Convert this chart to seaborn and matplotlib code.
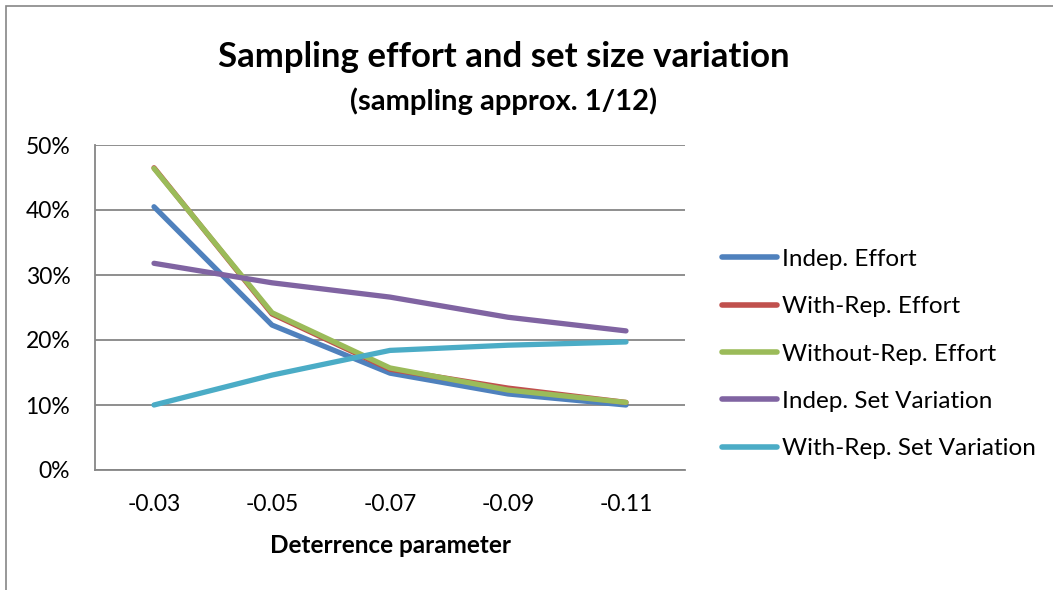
import matplotlib
matplotlib.use("Agg")
import matplotlib.pyplot as plt
import seaborn as sns
import pandas as pd
from matplotlib.patches import Rectangle

categories = ["-0.03", "-0.05", "-0.07", "-0.09", "-0.11"]
indep_effort = [0.405, 0.223, 0.149, 0.117, 0.100]
with_rep_effort = [0.465, 0.240, 0.155, 0.126, 0.104]
without_rep_effort = [0.464, 0.242, 0.157, 0.123, 0.104]
indep_set_var = [0.318, 0.288, 0.266, 0.235, 0.214]
with_rep_set_var = [0.100, 0.146, 0.184, 0.192, 0.197]
series_names = ["Indep. Effort", "With-Rep. Effort", "Without-Rep. Effort",
                "Indep. Set Variation", "With-Rep. Set Variation"]
colors = ["#4F81BD", "#C0504D", "#9BBB59", "#8064A2", "#4BACC6"]
yticks = [0.0, 0.1, 0.2, 0.3, 0.4, 0.5]
ytick_labels = ["0%", "10%", "20%", "30%", "40%", "50%"]

series_values = [indep_effort, with_rep_effort, without_rep_effort,
                 indep_set_var, with_rep_set_var]
rows = []
for name, vals in zip(series_names, series_values):
    for i, v in enumerate(vals):
        rows.append({"pos": i, "value": v, "series": name})
df = pd.DataFrame(rows)

sns.set_theme(style="white")
plt.rcParams["font.family"] = ["Lato", "DejaVu Sans"]
plt.rcParams["text.color"] = "black"
plt.rcParams["axes.labelcolor"] = "black"

fig = plt.figure(figsize=(10.53, 5.90), dpi=100)
ax = fig.add_axes([95/1053, 1-470/590, 590/1053, 325/590])

sns.lineplot(data=df, x="pos", y="value", hue="series", hue_order=series_names,
             palette=colors, linewidth=3.8, ax=ax, legend=True, sort=False,
             solid_capstyle="round", solid_joinstyle="round")

ax.set_xlim(-0.5, 4.5)
ax.set_ylim(0, 0.5)
ax.set_yticks(yticks)
ax.set_yticklabels(ytick_labels, fontsize=16.5)
ax.set_xticks(range(len(categories)))
ax.set_xticklabels(categories, fontsize=16.5)
ax.set_xticks([i - 0.5 for i in range(len(categories) + 1)], minor=True)
ax.tick_params(axis="x", which="major", length=0, pad=17, labelcolor="black")
ax.tick_params(axis="x", which="minor", length=5.8, color="#868686", width=1.2, direction="out")
ax.tick_params(axis="y", which="major", length=5.8, color="#868686", width=1.2, direction="out",
               pad=12, labelcolor="black")
ax.grid(axis="y", color="#868686", linewidth=1.3)
ax.set_axisbelow(True)
for s in ["top", "right"]:
    ax.spines[s].set_visible(False)
for s in ["left", "bottom"]:
    ax.spines[s].set_color("#868686")
    ax.spines[s].set_linewidth(1.3)
ax.set_ylabel("")
ax.set_xlabel("Deterrence parameter", fontsize=17.5, fontweight="bold", labelpad=14)

handles, labels = ax.get_legend_handles_labels()
leg = ax.legend(handles, labels, loc="center left", bbox_to_anchor=(712/1053, 1-354/590),
                bbox_transform=fig.transFigure, frameon=False, fontsize=17.5,
                handlelength=2.26, handletextpad=0.2, labelspacing=1.08, borderaxespad=0)
for h in leg.get_lines():
    h.set_linewidth(4)
    h.set_solid_capstyle("round")

fig.text(504/1053, 1-57/590, "Sampling effort and set size variation",
         ha="center", va="center", fontsize=25, fontweight="bold")
fig.text(504/1053, 1-101/590, "(sampling approx. 1/12)",
         ha="center", va="center", fontsize=21, fontweight="bold")

fig.patches.append(Rectangle((6/1053, -0.1), 1.2, 1 - 6/590 + 0.1, transform=fig.transFigure,
                             fill=False, edgecolor="#868686", linewidth=1.2))

fig.savefig("out.png", dpi=100, facecolor="white")
